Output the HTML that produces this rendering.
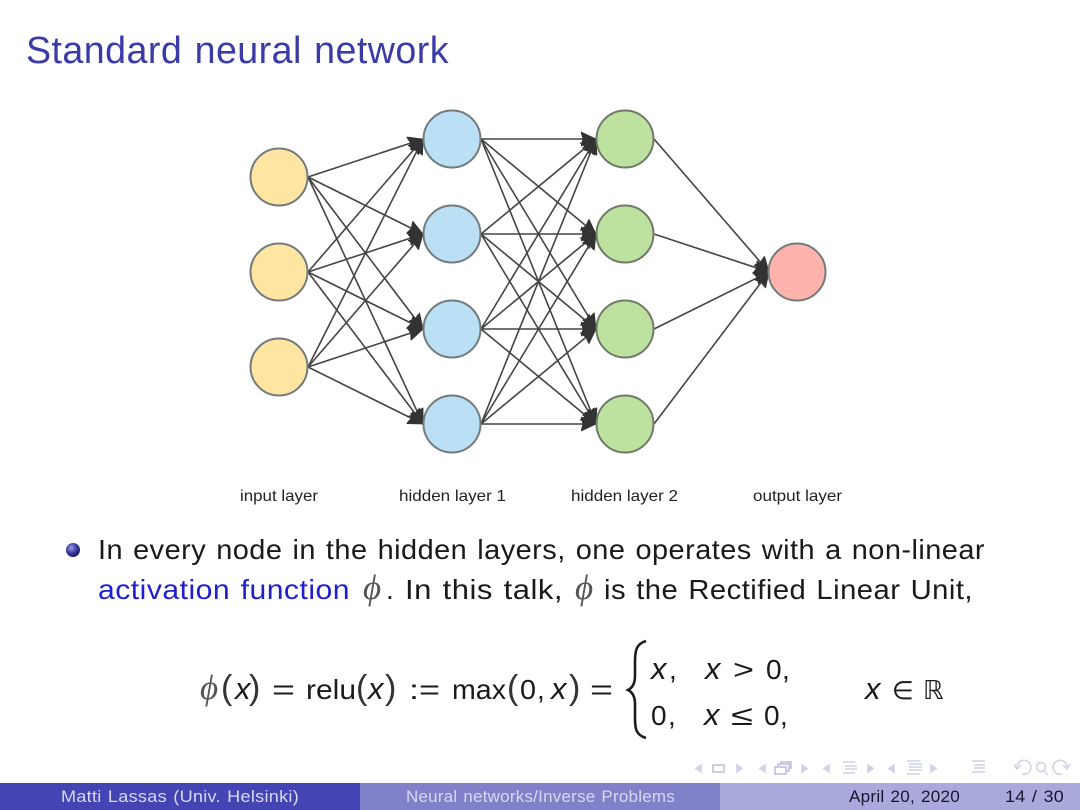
<!DOCTYPE html>
<html>
<head>
<meta charset="utf-8">
<title>Standard neural network</title>
<style>
html,body{margin:0;padding:0;background:#fff;width:1080px;height:810px;overflow:hidden}
svg{display:block;filter:blur(.35px)}
text{font-family:"Liberation Sans",sans-serif}
.s{letter-spacing:.45px;word-spacing:1.5px}
.f{letter-spacing:.25px;word-spacing:1px}
.m{font-family:"Liberation Sans",sans-serif;font-style:italic;font-size:31px}
.p{font-family:"Liberation Serif",serif;font-style:italic;font-size:35px;fill:#555}
.u{font-family:"DejaVu Sans",sans-serif}
.t{font-size:34px;fill:#333}
</style>
</head>
<body>
<svg width="1080" height="810" viewBox="0 0 1080 810" xmlns="http://www.w3.org/2000/svg">
<defs>
<marker id="a" markerUnits="userSpaceOnUse" markerWidth="18" markerHeight="18" refX="15" refY="9" orient="auto">
<path d="M0,2 L15,9 L0,16 L2,9 Z" fill="#333" stroke="#333" stroke-width=".8"/>
</marker>
<radialGradient id="b" cx="38%" cy="35%" r="70%">
<stop offset="0" stop-color="#9a9ae0"/><stop offset=".55" stop-color="#3a3aa0"/><stop offset="1" stop-color="#14145a"/>
</radialGradient>
</defs>
<rect width="1080" height="810" fill="#fff"/>

<text class="s" x="26" y="63" font-size="38" fill="#3a3aa8" textLength="423" lengthAdjust="spacingAndGlyphs">Standard neural network</text>

<g stroke="#444" stroke-width="1.6" fill="none" marker-end="url(#a)">
<line x1="308" y1="177" x2="423" y2="139"/>
<line x1="308" y1="177" x2="423" y2="234"/>
<line x1="308" y1="177" x2="423" y2="329"/>
<line x1="308" y1="177" x2="423" y2="424"/>
<line x1="308" y1="272" x2="423" y2="139"/>
<line x1="308" y1="272" x2="423" y2="234"/>
<line x1="308" y1="272" x2="423" y2="329"/>
<line x1="308" y1="272" x2="423" y2="424"/>
<line x1="308" y1="367" x2="423" y2="139"/>
<line x1="308" y1="367" x2="423" y2="234"/>
<line x1="308" y1="367" x2="423" y2="329"/>
<line x1="308" y1="367" x2="423" y2="424"/>
<line x1="481" y1="139" x2="596" y2="139"/>
<line x1="481" y1="139" x2="596" y2="234"/>
<line x1="481" y1="139" x2="596" y2="329"/>
<line x1="481" y1="139" x2="596" y2="424"/>
<line x1="481" y1="234" x2="596" y2="139"/>
<line x1="481" y1="234" x2="596" y2="234"/>
<line x1="481" y1="234" x2="596" y2="329"/>
<line x1="481" y1="234" x2="596" y2="424"/>
<line x1="481" y1="329" x2="596" y2="139"/>
<line x1="481" y1="329" x2="596" y2="234"/>
<line x1="481" y1="329" x2="596" y2="329"/>
<line x1="481" y1="329" x2="596" y2="424"/>
<line x1="481" y1="424" x2="596" y2="139"/>
<line x1="481" y1="424" x2="596" y2="234"/>
<line x1="481" y1="424" x2="596" y2="329"/>
<line x1="481" y1="424" x2="596" y2="424"/>
<line x1="654" y1="139" x2="769" y2="272"/>
<line x1="654" y1="234" x2="769" y2="272"/>
<line x1="654" y1="329" x2="769" y2="272"/>
<line x1="654" y1="424" x2="769" y2="272"/>
</g>

<g stroke="#737b7c" stroke-width="2">
<circle cx="279" cy="177" r="28.5" fill="#fee5a2"/>
<circle cx="279" cy="272" r="28.5" fill="#fee5a2"/>
<circle cx="279" cy="367" r="28.5" fill="#fee5a2"/>
<circle cx="452" cy="139" r="28.5" fill="#bbdff5"/>
<circle cx="452" cy="234" r="28.5" fill="#bbdff5"/>
<circle cx="452" cy="329" r="28.5" fill="#bbdff5"/>
<circle cx="452" cy="424" r="28.5" fill="#bbdff5"/>
<circle cx="625" cy="139" r="28.5" fill="#bde29f" stroke="#6f7a68"/>
<circle cx="625" cy="234" r="28.5" fill="#bde29f" stroke="#6f7a68"/>
<circle cx="625" cy="329" r="28.5" fill="#bde29f" stroke="#6f7a68"/>
<circle cx="625" cy="424" r="28.5" fill="#bde29f" stroke="#6f7a68"/>
<circle cx="797" cy="272" r="28.5" fill="#ffb3ac"/>
</g>

<g font-size="16" fill="#222">
<text x="240" y="501" textLength="78" lengthAdjust="spacingAndGlyphs">input layer</text>
<text x="399" y="501" textLength="107" lengthAdjust="spacingAndGlyphs">hidden layer 1</text>
<text x="571" y="501" textLength="107" lengthAdjust="spacingAndGlyphs">hidden layer 2</text>
<text x="753" y="501" textLength="89" lengthAdjust="spacingAndGlyphs">output layer</text>
</g>

<circle cx="73" cy="550" r="7" fill="url(#b)"/>
<g font-size="28" fill="#1a1a1a">
<text class="s" x="98" y="559" textLength="887" lengthAdjust="spacingAndGlyphs">In every node in the hidden layers, one operates with a non-linear</text>
<text class="s" x="98" y="599" fill="#1f1fd0" textLength="252" lengthAdjust="spacingAndGlyphs">activation function</text>
<text class="p" x="363" y="599">ϕ</text>
<text x="386" y="599">.</text>
<text class="s" x="405" y="599" textLength="158" lengthAdjust="spacingAndGlyphs">In this talk,</text>
<text class="p" x="575" y="599">ϕ</text>
<text class="s" x="604" y="599" textLength="369" lengthAdjust="spacingAndGlyphs">is the Rectified Linear Unit,</text>

<text class="p" x="200" y="699">ϕ</text>
<text class="t" x="221" y="699">(</text>
<text class="m" x="235" y="699">x</text>
<text class="t" x="249" y="699">)</text>
<text x="272" y="699" textLength="23" lengthAdjust="spacingAndGlyphs">=</text>
<text x="306" y="699" textLength="50" lengthAdjust="spacingAndGlyphs">relu</text>
<text class="t" x="356" y="699">(</text>
<text class="m" x="368" y="699">x</text>
<text class="t" x="385" y="699">)</text>
<text x="409" y="699" textLength="31" lengthAdjust="spacingAndGlyphs">:=</text>
<text x="452" y="699" textLength="54" lengthAdjust="spacingAndGlyphs">max</text>
<text class="t" x="507" y="699">(</text>
<text x="520" y="699" textLength="16" lengthAdjust="spacingAndGlyphs">0</text>
<text x="537" y="699">,</text>
<text class="m" x="551" y="699">x</text>
<text class="t" x="569" y="699">)</text>
<text x="590" y="699" textLength="23" lengthAdjust="spacingAndGlyphs">=</text>

<text class="m" x="651" y="679">x</text>
<text x="669" y="679">,</text>
<text class="m" x="705" y="679">x</text>
<text x="733" y="679" textLength="21" lengthAdjust="spacingAndGlyphs">&gt;</text>
<text x="766" y="679">0</text>
<text x="782" y="679">,</text>
<text x="651" y="725">0</text>
<text x="668" y="725">,</text>
<text class="m" x="704" y="725">x</text>
<text x="731" y="725" textLength="22" lengthAdjust="spacingAndGlyphs">≤</text>
<text x="764" y="725">0</text>
<text x="780" y="725">,</text>

<text class="m" x="865" y="699">x</text>
<text class="u" x="892" y="699" font-size="25">∈</text>
<text class="u" x="923" y="699" font-size="26">ℝ</text>
</g>
<path d="M646,641 C636,644 635,651 635,662 L635,676 C635,684 632,688 628,690 C632,692 635,696 635,704 L635,718 C635,729 636,735 646,738" fill="none" stroke="#1c1c1c" stroke-width="2.6"/>

<g fill="none" stroke="#cfcfe8" stroke-width="1.5">
<path d="M701,765 L696,768.5 L701,772 Z" fill="#cfcfe8"/>
<rect x="713" y="765" width="11" height="7" stroke="#bcbcdc"/>
<path d="M737,765 L742,768.5 L737,772 Z" fill="#cfcfe8"/>
<path d="M765,765 L760,768.5 L765,772 Z" fill="#cfcfe8"/>
<rect x="775" y="767" width="11" height="7" stroke="#bcbcdc"/>
<path d="M778,767 V764 H789 V771 H786" stroke="#bcbcdc"/>
<path d="M781,764 V762 H791 V768 H789" stroke="#bcbcdc"/>
<path d="M802,765 L807,768.5 L802,772 Z" fill="#cfcfe8"/>
<path d="M829,765 L824,768.5 L829,772 Z" fill="#cfcfe8"/>
<path d="M843,762 H855 M845,766 H857 M845,769 H857 M843,773 H855"/>
<path d="M868,765 L873,768.5 L868,772 Z" fill="#cfcfe8"/>
<path d="M894,765 L889,768.5 L894,772 Z" fill="#cfcfe8"/>
<path d="M907,761 H920 M909,764 H922 M909,767 H922 M909,770 H922 M907,774 H920"/>
<path d="M931,765 L936,768.5 L931,772 Z" fill="#cfcfe8"/>
<path d="M972,761 H985 M974,765 H985 M974,768 H985 M972,772 H985"/>
<path d="M1017,767 A7,7 0 1 1 1022,774"/>
<path d="M1014,764 L1017,769 L1021,765"/>
<circle cx="1041" cy="767" r="4.5"/>
<path d="M1044,771 L1048,775"/>
<path d="M1067,767 A7,7 0 1 0 1062,774"/>
<path d="M1070,764 L1067,769 L1063,765"/>
</g>

<rect x="0" y="783" width="360" height="27" fill="#4444b4"/>
<rect x="360" y="783" width="360" height="27" fill="#8181c9"/>
<rect x="720" y="783" width="360" height="27" fill="#a9a9dc"/>
<g font-size="17">
<text class="f" x="61" y="802" fill="#d8d8f2" textLength="238" lengthAdjust="spacingAndGlyphs">Matti Lassas  (Univ. Helsinki)</text>
<text class="f" x="406" y="802" fill="#d8d8f2" textLength="269" lengthAdjust="spacingAndGlyphs">Neural networks/Inverse Problems</text>
<text class="f" x="849" y="802" fill="#161630" textLength="111" lengthAdjust="spacingAndGlyphs">April 20, 2020</text>
<text class="f" x="1005" y="802" fill="#161630" textLength="59" lengthAdjust="spacingAndGlyphs">14 / 30</text>
</g>
</svg>
</body>
</html>
